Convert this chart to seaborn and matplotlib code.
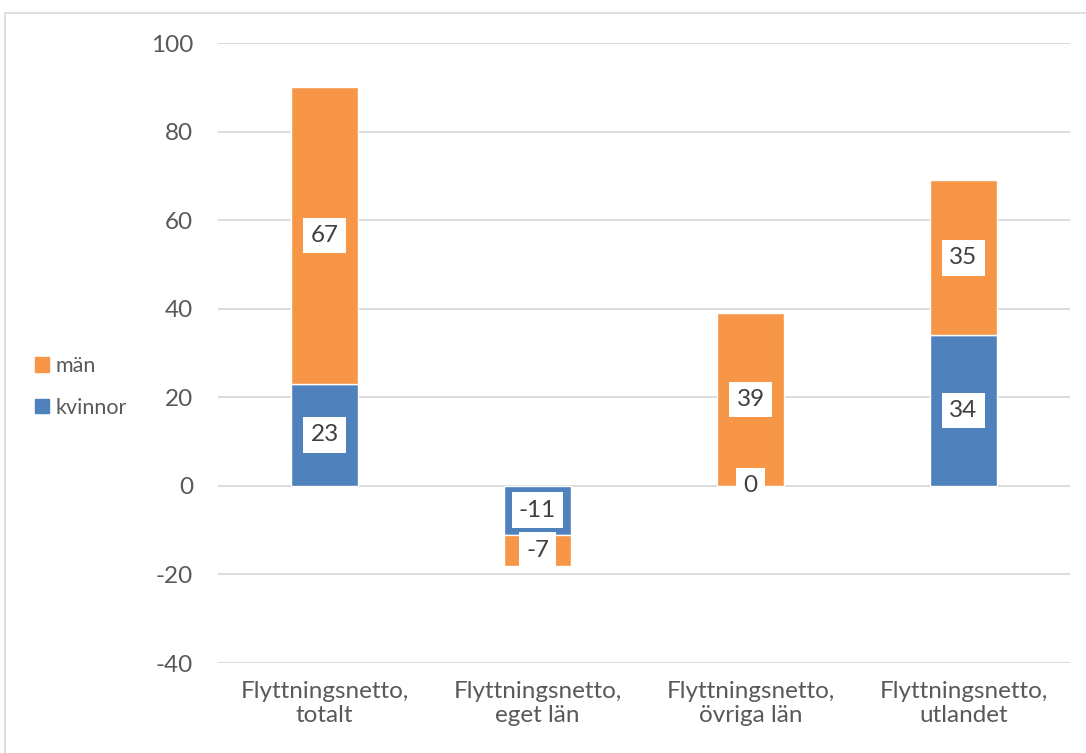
import matplotlib
matplotlib.use("Agg")
import matplotlib.pyplot as plt
import seaborn as sns
import pandas as pd
from matplotlib.patches import Rectangle

categories = ["Flyttningsnetto,\ntotalt", "Flyttningsnetto,\neget län",
              "Flyttningsnetto,\növriga län", "Flyttningsnetto,\nutlandet"]
kvinnor = [23, -11, 0, 34]
man = [67, -7, 39, 35]
yticks = [-40, -20, 0, 20, 40, 60, 80, 100]

sns.set_theme(style="white")
plt.rcParams['font.family'] = ['Lato', 'DejaVu Sans']

BLUE = "#4F81BD"
ORANGE = "#F79646"
TXT = "#595959"
FS = 17.5

fig = plt.figure(figsize=(10.86, 7.53), dpi=100)
ax = fig.add_axes([218/1086, 1-663/753, (1070-218)/1086, (663-43)/753])

df = pd.DataFrame({"cat": categories, "kvinnor": kvinnor, "man": man})
bottom_m = [k for k in kvinnor]

sns.barplot(data=df, x="cat", y="kvinnor", color=BLUE, width=0.31, ax=ax,
            saturation=1, label="kvinnor", zorder=3)
sns.barplot(data=df, x="cat", y="man", color=ORANGE, width=0.31, ax=ax,
            saturation=1, label="män", bottom=bottom_m, zorder=3)

ax.set_ylim(-40, 100)
ax.set_xlim(-0.5, 3.5)
ax.set_yticks(yticks)
ax.set_yticklabels([str(t) for t in yticks], color=TXT, fontsize=FS)
ax.tick_params(axis='y', length=0, pad=18)
ax.tick_params(axis='x', length=0, pad=13, labelsize=FS, labelcolor=TXT)
ax.set_xlabel("")
ax.set_ylabel("")
for s in ax.spines.values():
    s.set_visible(False)
ax.yaxis.grid(True, color="#D9D9D9", lw=1.3, zorder=0)
ax.set_axisbelow(True)
if ax.get_legend() is not None:
    ax.get_legend().remove()

bbox = dict(boxstyle="square,pad=0.3", fc="white", ec="none")
for i, (k, m) in enumerate(zip(kvinnor, man)):
    ax.text(i, k/2, str(k), ha="center", va="center", fontsize=FS, color="#404040",
            bbox=bbox, zorder=5)
    ax.text(i, k + m/2, str(m), ha="center", va="center", fontsize=FS, color="#404040",
            bbox=bbox, zorder=5)

handles = [Rectangle((0, 0), 1, 1, color=ORANGE), Rectangle((0, 0), 1, 1, color=BLUE)]
fig.legend(handles, ["män", "kvinnor"], loc="center left",
           bbox_to_anchor=(16/1086, 1-387/753), frameon=False, fontsize=15.5,
           labelcolor=TXT, handlelength=0.65, handleheight=0.65, handletextpad=0.3,
           labelspacing=1.0)

fig.patches.append(Rectangle((5/1086, -0.1), 1.2, 1-13/753+0.1, transform=fig.transFigure,
                             fill=False, ec="#D9D9D9", lw=1.2))

fig.savefig("out.png", dpi=100)
